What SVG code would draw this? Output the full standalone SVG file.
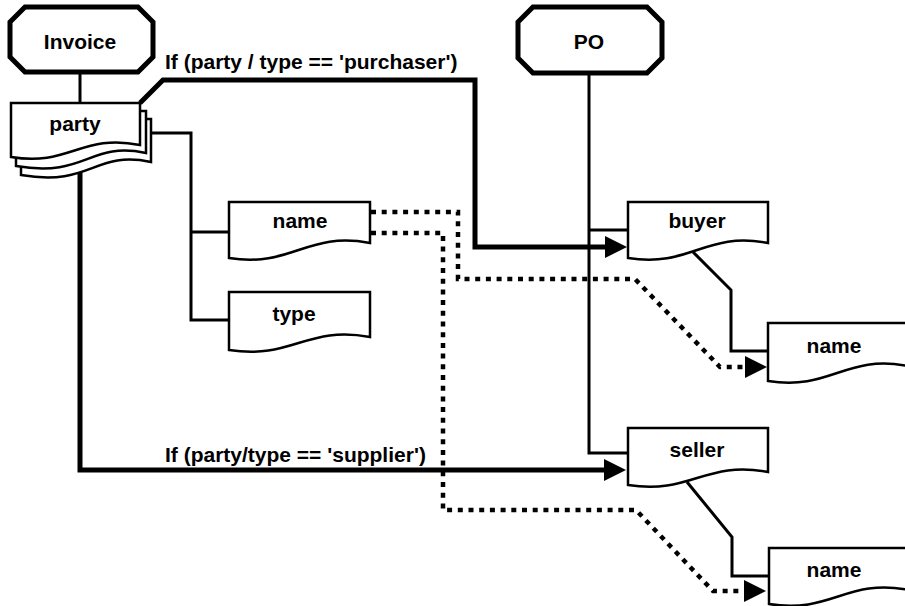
<svg xmlns="http://www.w3.org/2000/svg" width="905" height="606" viewBox="0 0 905 606">
<style>
text{font-family:"Liberation Sans",Arial,sans-serif;font-weight:bold;font-size:21px;fill:#000}
.lbl{text-anchor:middle}
.term{fill:#fff;stroke:#000;stroke-width:5;stroke-linejoin:miter}
.doc{fill:#fff;stroke:#000;stroke-width:2.5;stroke-linejoin:miter}
.thick{fill:none;stroke:#000;stroke-width:5}
.thin{fill:none;stroke:#000;stroke-width:3}
.dot{fill:none;stroke:#000;stroke-width:4.5;stroke-dasharray:5 5.7}
</style>
<defs>
<marker id="arr" markerUnits="userSpaceOnUse" markerWidth="22" markerHeight="22" viewBox="0 0 20 20" refX="0" refY="10" orient="auto">
<path d="M0,0 L20,10 L0,20 Z" fill="#000"/>
</marker>
</defs>
<g id="connectors">
<path class="thin" d="M80,72 V103"/>
<path class="thick" d="M140,103 L163,80 H475 V247 H605" marker-end="url(#arr)"/>
<path class="thick" d="M80,170 V470 H604" marker-end="url(#arr)"/>
<path class="thin" d="M151,133 H191 V320 H229 M191,232 H229"/>
<path class="thin" d="M589,73 V453 H628 M589,230 H628"/>
<path class="thin" d="M693,252 L731,290 V351 H768"/>
<path class="thin" d="M687,482 L732,537 V576 H769"/>
<path class="dot" d="M371,212 H458 V279 H635 L720,367 H745" marker-end="url(#arr)"/>
<path class="dot" d="M371,233 H443 V510 H636 L713,591 H744" marker-end="url(#arr)"/>
<text x="165" y="69">If (party / type == 'purchaser')</text>
<text x="165" y="462">If (party/type == 'supplier')</text>
</g>
<g id="invoice">
<path class="term" d="M25,7 H138 L153,22 V57 L138,72 H25 L10,57 V22 Z"/>
<text class="lbl" x="80" y="49">Invoice</text>
</g>
<g id="po">
<path class="term" d="M533,7 H647 L662,22 V58 L647,73 H533 L518,58 V22 Z"/>
<text class="lbl" x="589" y="49">PO</text>
</g>
<g id="party">
<path class="doc" d="M21,119 H151 V162 C93.5,150 92,187 21,175 Z"/>
<path class="doc" d="M16,111 H146 V153 C88.5,141 87,178 16,166 Z"/>
<path class="doc" d="M11,103 H140 V145 C82,133 69,167 11,157 Z"/>
<text class="lbl" x="75" y="131">party</text>
</g>
<g id="inv-name">
<path class="doc" d="M229,202 H370 V243 C306.5,231 292.5,268 229,258 Z"/>
<text class="lbl" x="300" y="228">name</text>
</g>
<g id="inv-type">
<path class="doc" d="M229,292 H370 V337 C306.5,325 292.5,360 229,350 Z"/>
<text class="lbl" x="294" y="321">type</text>
</g>
<g id="buyer">
<path class="doc" d="M628,202 H768 V243 C705,231 691,268 628,258 Z"/>
<text class="lbl" x="697" y="228">buyer</text>
</g>
<g id="buyer-name">
<path class="doc" d="M768,323 H908 V366 C845,354 831,391 768,381 Z"/>
<text class="lbl" x="834" y="353">name</text>
</g>
<g id="seller">
<path class="doc" d="M628,428 H768 V472 C705,460 691,495 628,485 Z"/>
<text class="lbl" x="697" y="457">seller</text>
</g>
<g id="seller-name">
<path class="doc" d="M769,548 H909 V590 C846,578 832,614 769,604 Z"/>
<text class="lbl" x="834" y="577">name</text>
</g>
</svg>
